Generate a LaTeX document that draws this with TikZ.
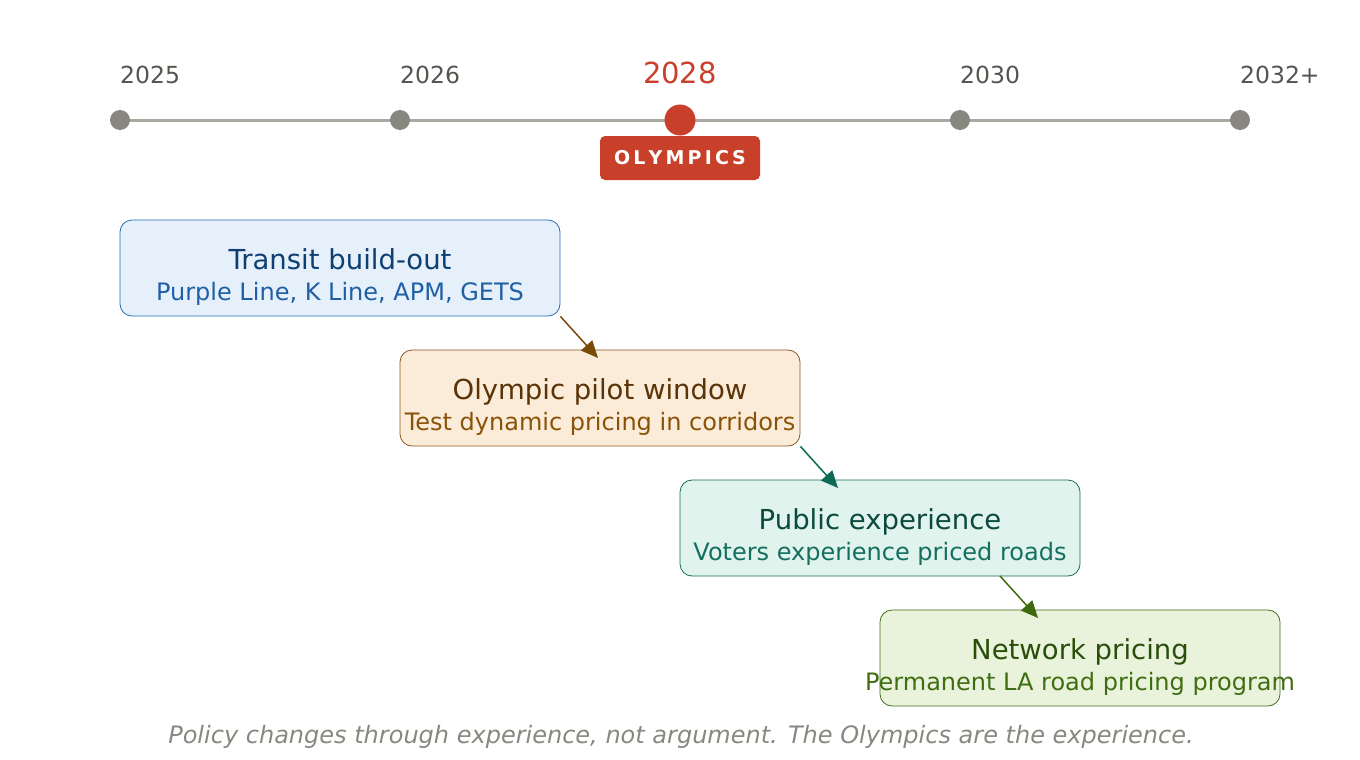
\documentclass[tikz,border=0pt]{standalone}
\usepackage{fontspec}
\setmainfont{DejaVu Sans}
\usetikzlibrary{arrows.meta}
\definecolor{tl}{HTML}{AAA9A0}
\definecolor{dot}{HTML}{888880}
\definecolor{red}{HTML}{C8402A}
\definecolor{yr}{HTML}{555550}
\tikzset{
 yrl/.style={anchor=base west,text=yr,font=\fontsize{23.5}{26}\selectfont,inner sep=0},
 dt/.style={circle,fill=dot,minimum size=20pt,inner sep=0},
 box/.style={draw,rounded corners=12pt,line width=0.8pt,inner sep=0},
 ttl/.style={anchor=base,font=\fontsize{27.5}{30}\selectfont,inner sep=0},
 sub/.style={anchor=base,font=\fontsize{24}{27}\selectfont,inner sep=0},
 arr/.style={line width=1.5pt,-{Triangle[length=17pt,width=15pt]}},
}
\begin{document}
\begin{tikzpicture}[x=1pt,y=-1pt]
\useasboundingbox (0,0) rectangle (1360,760);
\draw[tl,line width=3pt] (120,120) -- (1240,120);
\node[dt] (d1) at (120,120) {};
\node[dt] (d2) at (400,120) {};
\node[circle,fill=red,minimum size=31pt,inner sep=0] (d3) at (680,120) {};
\node[dt] (d4) at (960,120) {};
\node[dt] (d5) at (1240,120) {};
\node[yrl] (y1) at (120,83) {2025};
\node[yrl] (y2) at (400,83) {2026};
\node[anchor=base,text=red,font=\fontsize{29}{32}\selectfont,inner sep=0] (y3) at (680,84) {2028};
\node[yrl] (y4) at (960,83) {2030};
\node[yrl] (y5) at (1240,83) {2032+};
\node[fill=red,rounded corners=5pt,minimum width=160pt,minimum height=44pt,inner sep=0,text=white,font=\bfseries\fontsize{19}{21}\selectfont] (ol) at (680,158) {O\,L\,Y\,M\,P\,I\,C\,S};

\definecolor{f1}{HTML}{E6F0FA}\definecolor{s1}{HTML}{2A6AB0}\definecolor{t1}{HTML}{0D3F73}\definecolor{u1}{HTML}{1F5FA5}
\definecolor{f2}{HTML}{FBECD9}\definecolor{s2}{HTML}{8A5A1E}\definecolor{t2}{HTML}{5A3306}\definecolor{u2}{HTML}{8A5208}
\definecolor{f3}{HTML}{E0F3EC}\definecolor{s3}{HTML}{15705A}\definecolor{t3}{HTML}{0B4A40}\definecolor{u3}{HTML}{137060}
\definecolor{f4}{HTML}{E9F3DC}\definecolor{s4}{HTML}{3E6E1A}\definecolor{t4}{HTML}{2A4E0A}\definecolor{u4}{HTML}{3E6E10}
\definecolor{a1}{HTML}{7A4A08}\definecolor{a2}{HTML}{0E6A55}\definecolor{a3}{HTML}{3E6A10}

\node[box,fill=f1,draw=s1,minimum width=440pt,minimum height=96pt] (b1) at (340,268) {};
\node[ttl,text=t1] at (340,269) {Transit build-out};
\node[sub,text=u1] at (340,300) {Purple Line, K Line, APM, GETS};
\node[box,fill=f2,draw=s2,minimum width=400pt,minimum height=96pt] (b2) at (600,398) {};
\node[ttl,text=t2] at (600,399) {Olympic pilot window};
\node[sub,text=u2] at (600,430) {Test dynamic pricing in corridors};
\node[box,fill=f3,draw=s3,minimum width=400pt,minimum height=96pt] (b3) at (880,528) {};
\node[ttl,text=t3] at (880,529) {Public experience};
\node[sub,text=u3] at (880,560) {Voters experience priced roads};
\node[box,fill=f4,draw=s4,minimum width=400pt,minimum height=96pt] (b4) at (1080,658) {};
\node[ttl,text=t4] at (1080,659) {Network pricing};
\node[sub,text=u4] at (1080,690) {Permanent LA road pricing program};

\coordinate (e1) at (598,358);
\coordinate (e2) at (838,488);
\coordinate (s3) at (1000,576);
\coordinate (e3) at (1038,618);
\draw[arr,a1] (b1.south east) -- (e1);
\draw[arr,a2] (b2.south east) -- (e2);
\draw[arr,a3] (s3) -- (e3);

\node[anchor=base,text=dot,font=\itshape\fontsize{24}{27}\selectfont,inner sep=0] (cap) at (681,743) {Policy changes through experience, not argument. The Olympics are the experience.};
\end{tikzpicture}
\end{document}
